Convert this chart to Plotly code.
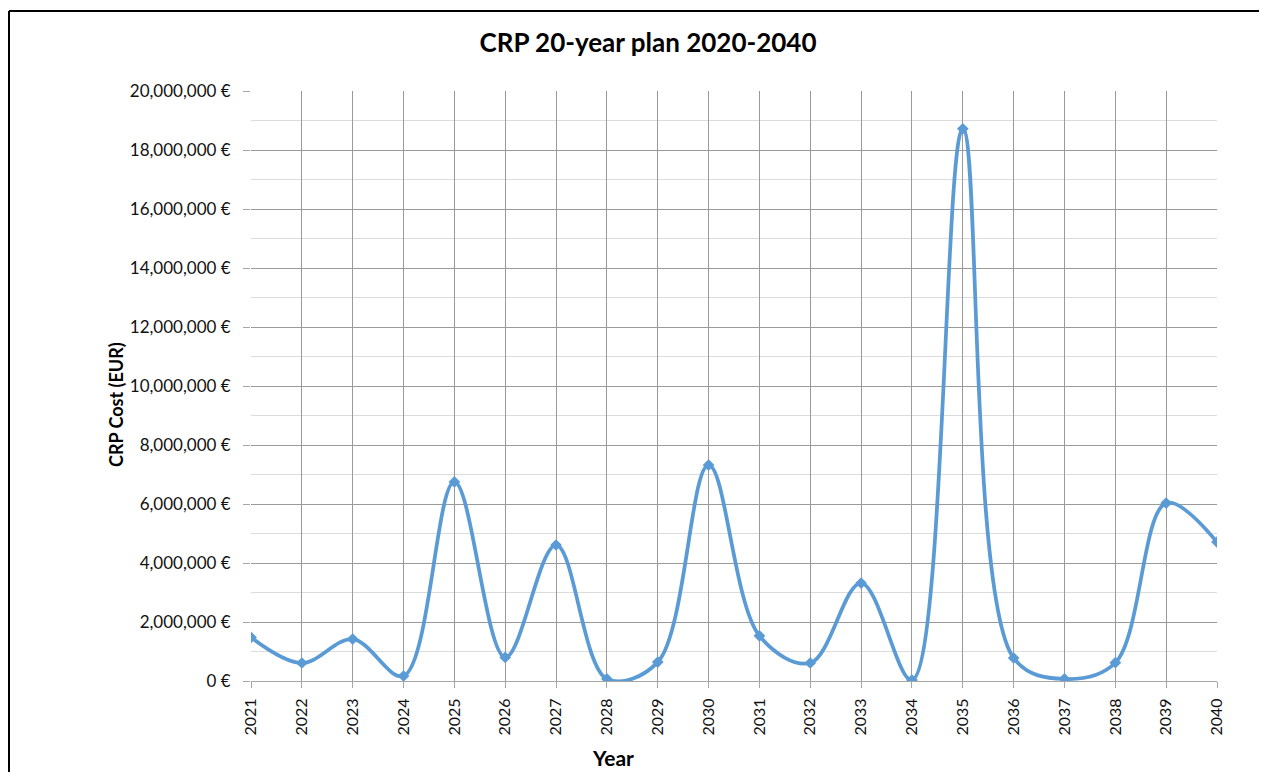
import plotly.graph_objects as go

years = [str(y) for y in range(2021, 2041)]
costs = [1.48e6, 0.61e6, 1.42e6, 0.17e6, 6.75e6, 0.80e6, 4.61e6, 0.07e6, 0.64e6, 7.32e6,
         1.53e6, 0.61e6, 3.32e6, 0.03e6, 18.72e6, 0.78e6, 0.07e6, 0.62e6, 6.03e6, 4.71e6]

FONT = "Lato"
W, H = 1251, 764
L, T = 243, 83
R = W - 1209
B = H - 673
pw = W - L - R
ph = H - T - B

fig = go.Figure()
fig.add_trace(go.Scatter(
    x=years, y=costs, mode="lines+markers",
    line=dict(color="#5B9BD5", width=3.75, shape="spline", smoothing=1.0),
    marker=dict(symbol="diamond", size=9, color="#5B9BD5"),
    showlegend=False,
))

fig.update_layout(
    width=W, height=H,
    margin=dict(l=L, r=R, t=T, b=B, autoexpand=False),
    paper_bgcolor="white", plot_bgcolor="white",
    font=dict(family=FONT, color="#111111"),
    title=dict(text="<b>CRP 20-year plan 2020-2040</b>", x=640 / W, xanchor="center",
               y=1 - 35 / H, yanchor="middle", font=dict(size=26, family=FONT, color="#000")),
    xaxis=dict(
        type="category", range=[0, len(years) - 1],
        tickangle=-90, tickfont=dict(size=16, family=FONT),
        showgrid=True, gridcolor="#9a9a9a", gridwidth=1,
        showline=True, linecolor="#a6a6a6", linewidth=1,
        ticks="outside", ticklen=6, tickcolor="#a6a6a6",
        ticklabelstandoff=4,
    ),
    yaxis=dict(
        range=[0, 20e6], dtick=2e6, tickformat=",.0f", ticksuffix=" €",
        tickfont=dict(size=17, family=FONT),
        showgrid=True, gridcolor="#9a9a9a", gridwidth=1,
        zeroline=False, showline=False,
        ticks="outside", ticklen=7, tickcolor="#a6a6a6",
        ticklabelstandoff=9,
        minor=dict(dtick=1e6, showgrid=True, gridcolor="#dcdcdc", gridwidth=1),
    ),
    annotations=[
        dict(text="<b>CRP Cost (EUR)</b>", textangle=-90, showarrow=False,
             xref="paper", yref="paper", x=(108 - L) / pw, y=(673 - 397) / ph,
             xanchor="center", yanchor="middle", font=dict(size=18, family=FONT, color="#000")),
        dict(text="<b>Year</b>", showarrow=False,
             xref="paper", yref="paper", x=(605 - L) / pw, y=(673 - 749) / ph,
             xanchor="center", yanchor="middle", font=dict(size=21, family=FONT, color="#000")),
    ],
)

# chart frame border (left and top edges visible), kept inside the figure
fx0 = (1 - L) / pw
fx1 = (W - L) / pw
fy0 = -B / ph
fy1 = 1 + (T - 3) / ph
fig.add_shape(type="line", xref="paper", yref="paper", x0=fx0, x1=fx0, y0=fy0, y1=fy1,
              line=dict(color="black", width=2), layer="above")
fig.add_shape(type="line", xref="paper", yref="paper", x0=fx0, x1=fx1, y0=fy1, y1=fy1,
              line=dict(color="black", width=2), layer="above")

fig.write_html("out.html")
